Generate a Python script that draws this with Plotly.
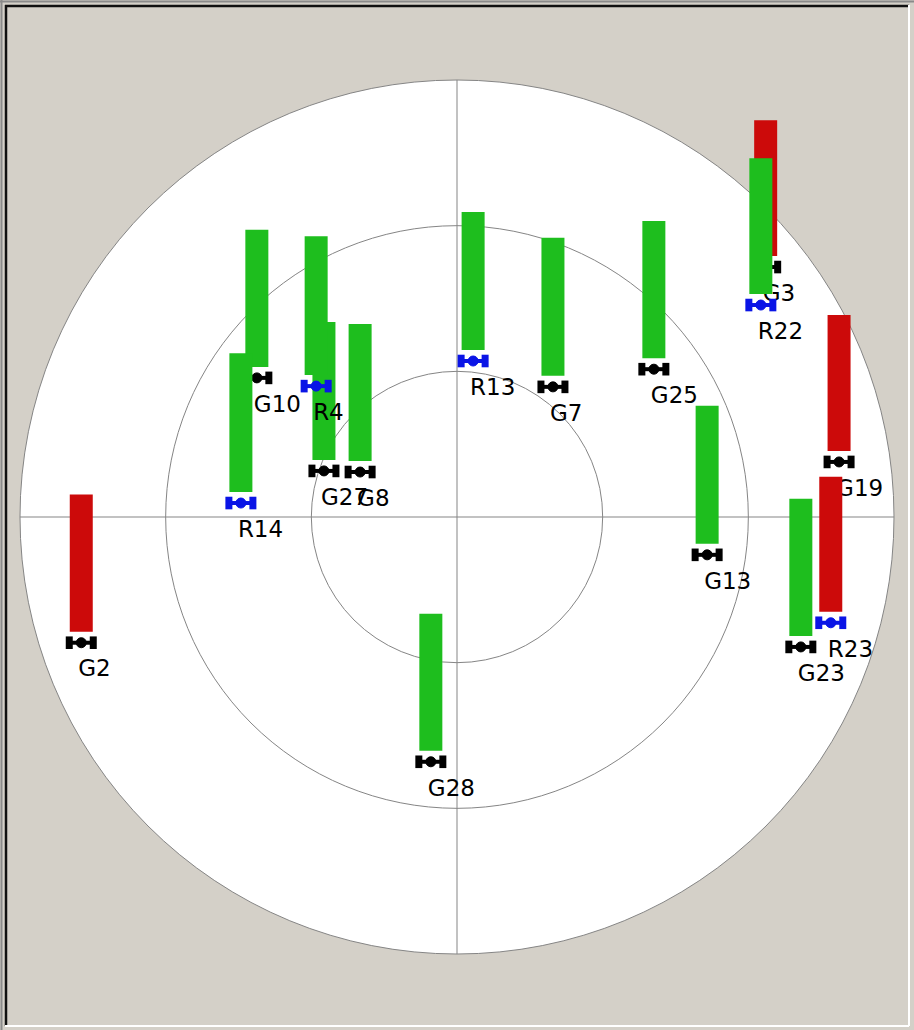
import math
import plotly.graph_objects as go

# ---------------- data ----------------
gps_prn = ["G2", "G3", "G7", "G8", "G10", "G13", "G19", "G23", "G25", "G27", "G28"]
gps_azimuth = [251.5, 51.0, 36.4, 294.9, 304.8, 98.6, 81.8, 110.7, 53.1, 289.1, 186.1]
gps_elevation = [8.4, 8.2, 56.7, 68.0, 39.8, 37.9, 10.5, 14.3, 39.3, 61.0, 39.3]
gps_snr = [45.7, 45.3, 46.0, 45.7, 45.7, 46.0, 45.3, 45.7, 45.7, 46.0, 45.7]
gps_used = [False, False, True, True, True, True, False, True, True, True, True]

glo_prn = ["R4", "R13", "R14", "R22", "R23"]
glo_azimuth = [312.9, 5.9, 273.7, 55.1, 105.8]
glo_elevation = [50.4, 57.7, 45.4, 13.7, 10.0]
glo_snr = [46.3, 46.0, 46.3, 45.3, 45.0]
glo_used = [True, True, True, True, False]

ring_elevations = [0, 30, 60]

# ---------------- styling / geometry ----------------
W, H = 914, 1030
CX, CY = 457, 517          # pixel position of zenith
PX = 437 / 90.0            # pixels per degree of zenith distance
XR = [-CX / PX, (W - CX) / PX]
YR = [-(H - CY) / PX, CY / PX]

GREEN = "#1EBE1E"
RED = "#CC0A0A"
GRID = "#858585"
BG = "#D4D0C8"
FONT = dict(family="DejaVu Sans", size=23, color="#000000")

BAR_W = 23 / PX
BAR_GAP = 11 / PX
SNR_SCALE = 3.0 / PX       # bar length per dB-Hz
ICON_D = 12 / PX


def sky_xy(az, el):
    r = 90 - el
    a = math.radians(az)
    return r * math.sin(a), r * math.cos(a)


fig = go.Figure()


def add_group(prn, az, el, snr, used, icon_color, xa, ya):
    xs, ys = zip(*[sky_xy(a, e) for a, e in zip(az, el)])
    fig.add_trace(go.Bar(
        x=list(xs), y=[s * SNR_SCALE for s in snr],
        base=[y + BAR_GAP for y in ys], width=BAR_W,
        marker=dict(color=[GREEN if u else RED for u in used],
                    line=dict(width=0, color="rgba(0,0,0,0)")),
        opacity=1,
        xaxis=xa, yaxis=ya, hoverinfo="skip", showlegend=False))
    ix, iy, sym, size, lw = [], [], [], [], []
    for x, y in zip(xs, ys):
        ix += [x - ICON_D, x, x + ICON_D, None]
        iy += [y, y, y, None]
        sym += ["line-ns", "circle", "line-ns", "circle"]
        size += [9, 10, 9, 0]
        lw += [7, 1, 7, 0]
    fig.add_trace(go.Scatter(
        x=ix, y=iy, mode="lines+markers",
        line=dict(color=icon_color, width=4),
        marker=dict(symbol=sym, size=size, color=icon_color, opacity=1,
                    line=dict(color=icon_color, width=lw)),
        xaxis=xa, yaxis=ya, hoverinfo="skip", showlegend=False))
    fig.add_trace(go.Scatter(
        x=[x - 3 / PX for x in xs], y=[y - 28 / PX for y in ys],
        mode="text", text=prn, textposition="middle right", textfont=FONT,
        xaxis=xa, yaxis=ya, hoverinfo="skip", showlegend=False))


add_group(gps_prn, gps_azimuth, gps_elevation, gps_snr, gps_used, "#000000", "x", "y")
add_group(glo_prn, glo_azimuth, glo_elevation, glo_snr, glo_used, "#0A14E6", "x2", "y2")

# sky rings and cross-hair
shapes = []
for i, e in enumerate(ring_elevations):
    r = 90 - e
    shapes.append(dict(type="circle", xref="x", yref="y", x0=-r, x1=r, y0=-r, y1=r,
                       line=dict(color=GRID, width=1),
                       fillcolor="white" if i == 0 else "rgba(0,0,0,0)", layer="below"))
R0 = 90 - ring_elevations[0]
shapes.append(dict(type="line", xref="x", yref="y", x0=-R0, x1=R0, y0=0, y1=0,
                   line=dict(color=GRID, width=1), layer="below"))
shapes.append(dict(type="line", xref="x", yref="y", x0=0, x1=0, y0=-R0, y1=R0,
                   line=dict(color=GRID, width=1), layer="below"))


# sunken window frame (paper coords)
def pline(x0, y0, x1, y1, color, width):
    return dict(type="line", xref="paper", yref="paper",
                x0=x0 / W, x1=x1 / W, y0=1 - y0 / H, y1=1 - y1 / H,
                line=dict(color=color, width=width), layer="above")


shapes += [
    pline(0, 1.5, W, 1.5, "#8A8A8A", 2),
    pline(1.5, 0, 1.5, H, "#8A8A8A", 2),
    pline(5, 6, 909, 6, "#101010", 2.5),
    pline(6, 5, 6, 1026, "#101010", 2.5),
    pline(909, 5, 909, 1026, "#FFFFFF", 2),
    pline(5, 1026, 909, 1026, "#FFFFFF", 2),
]

ax = dict(range=XR, visible=False, fixedrange=True, showgrid=False, zeroline=False)
ay = dict(range=YR, visible=False, fixedrange=True, showgrid=False, zeroline=False)
fig.update_layout(
    width=W, height=H, autosize=False,
    margin=dict(l=0, r=0, t=0, b=0, pad=0),
    paper_bgcolor=BG, plot_bgcolor=BG,
    barmode="overlay", showlegend=False, hovermode=False,
    xaxis=dict(**ax, domain=[0, 1]),
    yaxis=dict(**ay, domain=[0, 1]),
    xaxis2=dict(**ax, overlaying="x"),
    yaxis2=dict(**ay, overlaying="y"),
    shapes=shapes,
)

fig.write_html("out.html", config={"displayModeBar": False, "staticPlot": True},
               post_script="document.body.style.margin='0';document.body.style.overflow='hidden';")
